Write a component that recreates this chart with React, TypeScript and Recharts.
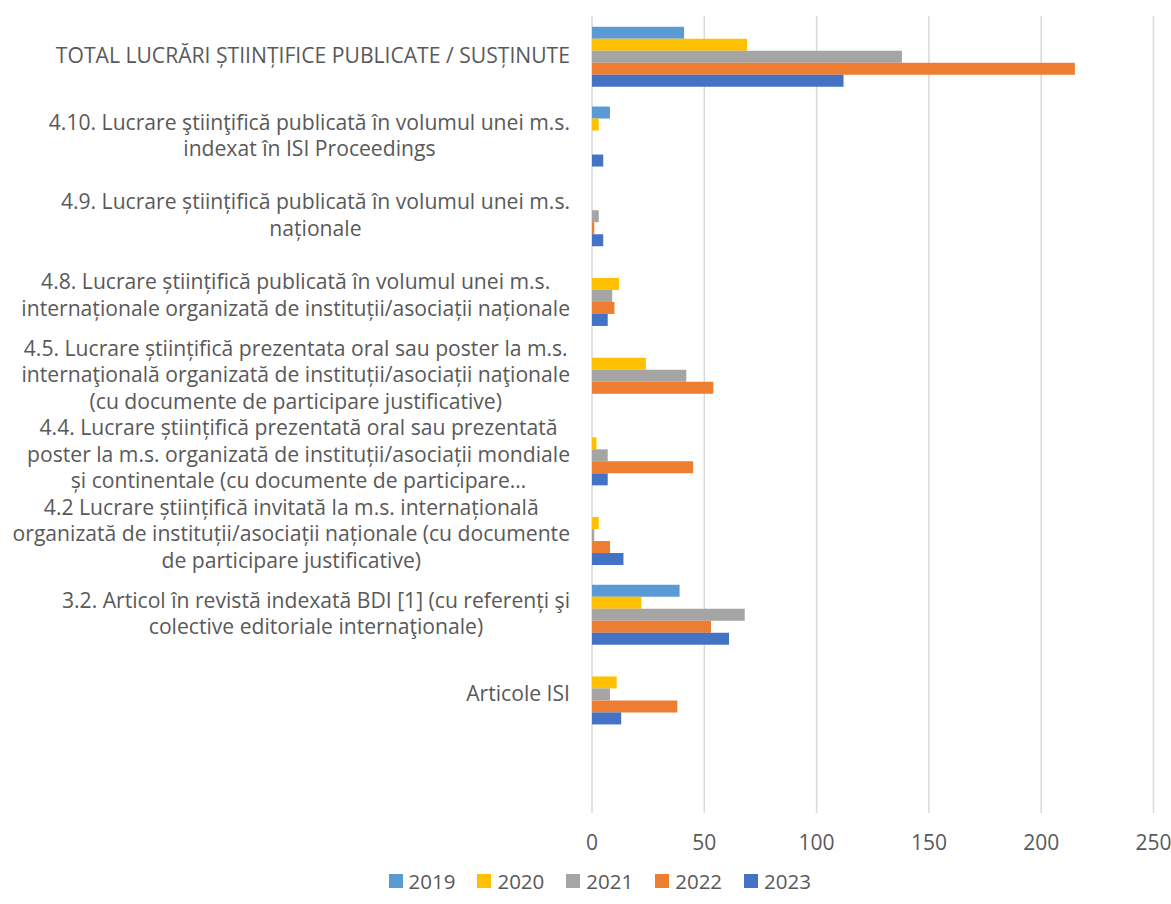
import React from "react";
import { BarChart, Bar, XAxis, YAxis, CartesianGrid, Legend } from "recharts";

const categories = [
  "TOTAL LUCRĂRI ȘTIINȚIFICE PUBLICATE / SUSȚINUTE",
  "4.10. Lucrare ştiinţifică publicată în volumul unei m.s.\nindexat în ISI Proceedings",
  "4.9. Lucrare științifică publicată în volumul unei m.s.\nnaționale",
  "4.8. Lucrare științifică publicată în volumul unei m.s.\ninternaționale organizată de instituții/asociații naționale",
  "4.5. Lucrare științifică prezentata oral sau poster la m.s.\ninternaţională organizată de instituții/asociații naţionale\n(cu documente de participare justificative)",
  "4.4. Lucrare științifică prezentată oral sau prezentată\nposter la m.s. organizată de instituții/asociații mondiale\nși continentale (cu documente de participare…",
  "4.2 Lucrare științifică invitată la m.s. internațională\norganizată de instituții/asociații naționale (cu documente\nde participare justificative)",
  "3.2. Articol în revistă indexată BDI [1] (cu referenți şi\ncolective editoriale internaţionale)",
  "Articole ISI",
  " ",
];

const years = ["2019", "2020", "2021", "2022", "2023"];
const colors = ["#5B9BD5", "#FFC000", "#A5A5A5", "#ED7D31", "#4472C4"];

const v2019 = [41, 8, 0, 0, 0, 0, 0, 39, 0, null];
const v2020 = [69, 3, 0, 12, 24, 2, 3, 22, 11, null];
const v2021 = [138, 0, 3, 9, 42, 7, 1, 68, 8, null];
const v2022 = [215, 0, 1, 10, 54, 45, 8, 53, 38, null];
const v2023 = [112, 5, 5, 7, 0, 7, 14, 61, 13, null];

const xTicks = [0, 50, 100, 150, 200, 250];

const seriesValues = [v2019, v2020, v2021, v2022, v2023];
const data = categories.map((name, i) => {
  const row: Record<string, any> = { name };
  years.forEach((y, k) => {
    row[y] = seriesValues[k][i];
  });
  return row;
});

const FAMILY = "Open Sans";
const FONT = "'Open Sans', Lato, sans-serif";
const TEXT = "#595959";

let ctx: CanvasRenderingContext2D | null = null;
function textWidth(s: string, size: number) {
  if (!ctx && typeof document !== "undefined") {
    ctx = document.createElement("canvas").getContext("2d");
  }
  if (!ctx) return s.length * size * 0.5;
  ctx.font = `${size}px "${FAMILY}"`;
  return ctx.measureText(s).width;
}

// fit font size so the widest wrapped line spans like the reference
const REF_LINE = "organizată de instituții/asociații naționale (cu documente";
const FS = (() => {
  const w = textWidth(REF_LINE, 20);
  const s = (20 * 558) / (w || 558);
  return Math.max(16, Math.min(24, s));
})();

const LINE_H = 26.5;

const CategoryTick = (props: any) => {
  const { x, y, payload } = props;
  const lines = String(payload.value).split("\n");
  const widths = lines.map((l) => textWidth(l, FS));
  const maxW = Math.max(...widths, 0);
  const cx = x - maxW / 2;
  const startY = y - ((lines.length - 1) * LINE_H) / 2;
  return (
    <text textAnchor="middle" fill={TEXT} fontSize={FS} fontFamily={FONT}>
      {lines.map((l, i) => (
        <tspan key={i} x={cx} y={startY + i * LINE_H} dy="0.35em">
          {l}
        </tspan>
      ))}
    </text>
  );
};

const renderLegend = () => (
  <div
    style={{
      display: "flex",
      justifyContent: "center",
      alignItems: "center",
      fontFamily: FONT,
      fontSize: 20.5,
      color: TEXT,
      paddingLeft: 46,
      height: 38,
    }}
  >
    {years.map((y, k) => (
      <span
        key={y}
        style={{ display: "flex", alignItems: "center", marginRight: k < years.length - 1 ? 22 : 0 }}
      >
        <span
          style={{
            display: "inline-block",
            width: 14,
            height: 14,
            background: colors[k],
            marginRight: 6,
          }}
        />
        {y}
      </span>
    ))}
  </div>
);

export default function App() {
  return (
    <div style={{ position: "absolute", left: 0, top: 0, width: 1171, height: 904 }}>
      <BarChart
        width={1171}
        height={904}
        data={data}
        layout="vertical"
        margin={{ top: 16, right: 17.5, left: 0, bottom: 4 }}
        barGap={0}
        barCategoryGap="13.6%"
      >
        <CartesianGrid horizontal={false} stroke="#D9D9D9" strokeWidth={1.5} />
        <XAxis
          type="number"
          domain={[0, 250]}
          ticks={xTicks}
          axisLine={false}
          tickLine={false}
          height={49}
          tickMargin={16}
          tick={{ fill: TEXT, fontSize: 21, fontFamily: FONT }}
        />
        <YAxis
          type="category"
          dataKey="name"
          width={592}
          axisLine={false}
          tickLine={false}
          tickSize={0}
          tickMargin={22}
          interval={0}
          tick={<CategoryTick />}
        />
        <Legend verticalAlign="bottom" height={38} content={renderLegend} />
        {years.map((y, k) => (
          <Bar key={y} dataKey={y} fill={colors[k]} isAnimationActive={false} />
        ))}
      </BarChart>
    </div>
  );
}
